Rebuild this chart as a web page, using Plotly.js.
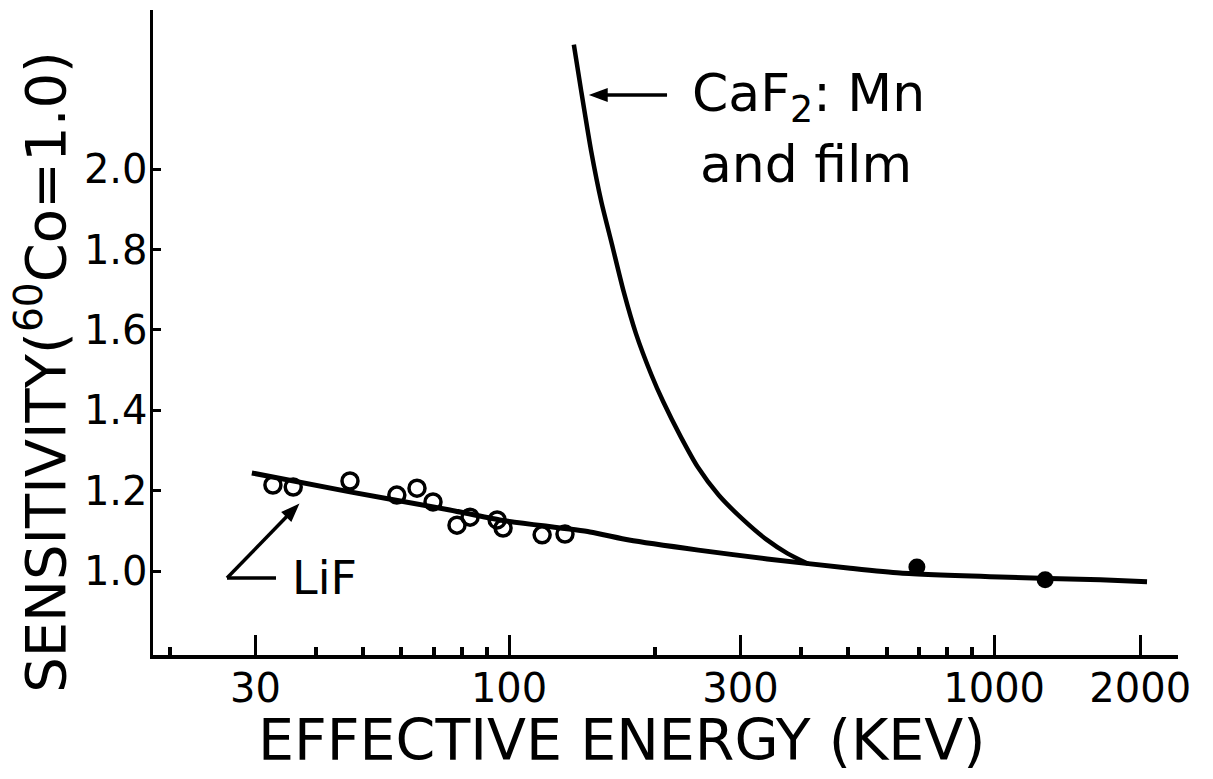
<!DOCTYPE html>
<html>
<head>
<meta charset="utf-8">
<script src="https://cdn.plot.ly/plotly-3.0.1.min.js"></script>
<style>
  html, body { margin: 0; padding: 0; background: #ffffff; }
  #chart { width: 1213px; height: 779px; }
</style>
</head>
<body>
<div id="chart"></div>
<script>
// Smooth LiF response curve (energy keV, relative sensitivity)
const lifCurveEnergy = [29.5, 47.0, 75.5, 95.7, 146.8, 176.7, 245.6, 340.6, 504.9, 639.8, 1028, 1655, 2066];
const lifCurveSens   = [1.244, 1.197, 1.152, 1.127, 1.097, 1.077, 1.052, 1.030, 1.007, 0.995, 0.985, 0.978, 0.973];

// CaF2:Mn and film curve
const cafCurveEnergy = [136.0, 140.6, 147.6, 155.0, 162.8, 172.3, 182.5, 196.4, 207.9, 225.7, 245.1, 270.4, 303.0, 339.6, 374.7, 413.3];
const cafCurveSens   = [2.310, 2.200, 2.046, 1.918, 1.815, 1.695, 1.592, 1.489, 1.421, 1.335, 1.258, 1.189, 1.129, 1.078, 1.044, 1.018];

// LiF measured points (open circles)
const lifPointEnergy = [32.6, 35.9, 47.0, 58.7, 64.6, 69.7, 78.1, 83.1, 94.5, 97.2, 117.0, 130.4];
const lifPointSens   = [1.214, 1.209, 1.224, 1.189, 1.206, 1.172, 1.114, 1.134, 1.127, 1.107, 1.090, 1.092];

// High-energy points (solid)
const hiPointEnergy = [693, 1274];
const hiPointSens   = [1.010, 0.978];

// Axis ticks
const xMajorTicks = [30, 100, 300, 1000, 2000];
const xMajorLabels = ['30', '100', '300', '1000', '2000'];
const xMinorTicks = [20, 40, 50, 60, 70, 80, 90, 200, 400, 500, 600, 700, 800, 900];
const yTicks = [1.0, 1.2, 1.4, 1.6, 1.8, 2.0];
const yLabels = ['1.0', '1.2', '1.4', '1.6', '1.8', '2.0'];

const FONT = 'DejaVu Sans, sans-serif';

const traces = [
  {
    x: lifCurveEnergy, y: lifCurveSens, type: 'scatter', mode: 'lines',
    line: { color: '#000', width: 5, shape: 'spline', smoothing: 0.6 },
    name: 'LiF', showlegend: false, hoverinfo: 'skip'
  },
  {
    x: cafCurveEnergy, y: cafCurveSens, type: 'scatter', mode: 'lines',
    line: { color: '#000', width: 4.5, shape: 'spline', smoothing: 0.6 },
    name: 'CaF2:Mn and film', showlegend: false, hoverinfo: 'skip'
  },
  {
    x: lifPointEnergy, y: lifPointSens, type: 'scatter', mode: 'markers',
    marker: { symbol: 'circle-open', size: 16, color: '#000', line: { width: 3.5, color: '#000' } },
    showlegend: false, hoverinfo: 'skip'
  },
  {
    x: hiPointEnergy, y: hiPointSens, type: 'scatter', mode: 'markers',
    marker: { symbol: 'circle', size: 17, color: '#000' },
    showlegend: false, hoverinfo: 'skip'
  }
];

const layout = {
  width: 1213, height: 779,
  paper_bgcolor: '#ffffff', plot_bgcolor: '#ffffff',
  margin: { l: 153, r: 35, t: 10, b: 124 },
  showlegend: false,
  font: { family: FONT, color: '#000' },
  xaxis: {
    type: 'log',
    range: [1.266, 3.379],
    showline: true, linewidth: 3.5, linecolor: '#000',
    showgrid: false, zeroline: false,
    tickmode: 'array', tickvals: xMajorTicks, ticktext: xMajorLabels,
    ticks: 'inside', ticklen: 20, tickwidth: 3, tickcolor: '#000',
    tickfont: { family: FONT, size: 40, color: '#000' },
    ticklabelstandoff: -5,
    minor: { tickmode: 'array', tickvals: xMinorTicks, ticks: 'inside', ticklen: 8, tickwidth: 4, tickcolor: '#000', showgrid: false }
  },
  yaxis: {
    range: [0.791, 2.396],
    showline: true, linewidth: 3.5, linecolor: '#000',
    showgrid: false, zeroline: false,
    tickmode: 'array', tickvals: yTicks, ticktext: yLabels,
    ticks: 'inside', ticklen: 8, tickwidth: 3, tickcolor: '#000',
    tickfont: { family: FONT, size: 40, color: '#000' },
    ticklabelstandoff: -6
  },
  shapes: [
    // LiF pointer: horizontal stroke, diagonal shaft, arrowhead
    { type: 'line', xref: 'paper', yref: 'paper', x0: 0.0722, x1: 0.12, y0: 0.1194, y1: 0.1194,
      line: { color: '#000', width: 3.5 } },
    { type: 'line', xref: 'paper', yref: 'paper', x0: 0.0722, y0: 0.1194, x1: 0.1305, y1: 0.2147,
      line: { color: '#000', width: 3.5 } },
    { type: 'path', xref: 'paper', yref: 'paper',
      path: 'M 0.1415 0.2326 L 0.1347 0.2082 L 0.1263 0.2212 Z',
      fillcolor: '#000', line: { color: '#000', width: 1.5 } },
    // CaF2 pointer: shaft and arrowhead
    { type: 'line', xref: 'paper', yref: 'paper', x0: 0.4400, x1: 0.5015, y0: 0.8682, y1: 0.8682,
      line: { color: '#000', width: 3.5 } },
    { type: 'path', xref: 'paper', yref: 'paper',
      path: 'M 0.4273 0.8682 L 0.4429 0.8775 L 0.4429 0.8589 Z',
      fillcolor: '#000', line: { color: '#000', width: 1.5 } }
  ],
  annotations: [
    { xref: 'paper', yref: 'paper', x: 0.4576, y: -0.1318, xanchor: 'center', yanchor: 'middle',
      text: 'EFFECTIVE ENERGY (KEV)', showarrow: false, font: { family: FONT, size: 57, color: '#000' } },
    { xref: 'paper', yref: 'paper', x: -0.108, y: 0.4395, xanchor: 'center', yanchor: 'middle',
      textangle: -90, text: 'SENSITIVITY(<sup>60</sup>Co=1.0)', showarrow: false,
      font: { family: FONT, size: 56, color: '#000' } },
    { xref: 'paper', yref: 'paper', x: 0.5239, y: 0.8651, xanchor: 'left', yanchor: 'middle',
      text: 'CaF<sub>2</sub>: Mn', showarrow: false, font: { family: FONT, size: 52, color: '#000' } },
    { xref: 'paper', yref: 'paper', x: 0.5317, y: 0.7612, xanchor: 'left', yanchor: 'middle',
      text: 'and film', showarrow: false, font: { family: FONT, size: 52, color: '#000' } },
    { xref: 'paper', yref: 'paper', x: 0.1678, y: 0.1194, xanchor: 'center', yanchor: 'middle',
      text: 'LiF', showarrow: false, font: { family: FONT, size: 46, color: '#000' } }
  ]
};

Plotly.newPlot('chart', traces, layout, { displayModeBar: false, staticPlot: true });
</script>
</body>
</html>
